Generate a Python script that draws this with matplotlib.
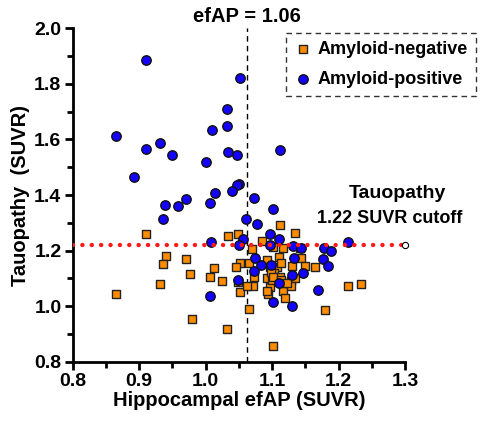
import matplotlib.pyplot as plt
from matplotlib.ticker import MultipleLocator

plt.rcParams['font.family'] = ['Liberation Sans', 'DejaVu Sans']
plt.rcParams['font.weight'] = 'bold'

# amyloid-negative subjects (hippocampal efAP, tau SUVR)
neg_x = [0.865, 0.910, 0.940, 0.936, 0.931, 0.971, 0.976, 0.980, 1.006, 1.013,
         1.025, 1.032, 1.033, 1.048, 1.051, 1.046, 1.048, 1.051, 1.066, 1.070,
         1.085, 1.073, 1.072, 1.066, 1.062, 1.092, 1.097, 1.101, 1.112, 1.110,
         1.108, 1.103, 1.092, 1.097, 1.094, 1.100, 1.116, 1.114, 1.112, 1.117,
         1.119, 1.130, 1.128, 1.135, 1.135, 1.143, 1.150, 1.165, 1.180, 1.214,
         1.234, 1.102, 1.128, 1.099, 1.102, 1.114, 1.122, 1.092, 1.142]
neg_y = [1.044, 1.258, 1.180, 1.152, 1.078, 1.170, 1.114, 0.954, 1.106, 1.136,
         1.092, 0.916, 1.252, 1.258, 1.154, 1.142, 1.088, 1.051, 1.154, 1.204,
         1.236, 1.106, 1.072, 0.990, 1.072, 1.166, 1.142, 1.214, 1.292, 1.178,
         1.142, 1.118, 1.102, 1.070, 1.044, 1.094, 1.208, 1.154, 1.106, 1.056,
         1.030, 1.144, 1.090, 1.262, 1.102, 1.174, 1.146, 1.140, 0.986, 1.072,
         1.080, 0.858, 1.072, 1.124, 1.106, 1.094, 1.082, 1.054, 1.208]

# amyloid-positive subjects
pos_x = [0.911, 1.051, 1.032, 1.032, 1.009, 0.866, 0.931, 0.910, 1.112, 1.033,
         1.047, 0.950, 1.001, 0.893, 1.050, 1.047, 1.040, 1.014, 1.006, 0.971,
         0.959, 0.939, 0.936, 1.073, 1.102, 1.060, 1.078, 1.008, 1.056, 1.050,
         1.097, 1.110, 1.214, 1.132, 1.143, 1.178, 1.189, 1.075, 1.133, 1.177,
         1.184, 1.099, 1.146, 1.169, 1.007, 1.101, 1.130, 1.110, 1.073, 1.130,
         1.097, 1.084, 1.049]
pos_y = [1.886, 1.822, 1.711, 1.648, 1.634, 1.611, 1.586, 1.566, 1.561, 1.555,
         1.544, 1.545, 1.519, 1.466, 1.438, 1.436, 1.414, 1.406, 1.372, 1.386,
         1.362, 1.363, 1.314, 1.388, 1.351, 1.314, 1.297, 1.230, 1.243, 1.219,
         1.258, 1.243, 1.230, 1.218, 1.208, 1.208, 1.200, 1.174, 1.174, 1.170,
         1.146, 1.147, 1.120, 1.058, 1.036, 1.016, 1.000, 1.082, 1.126, 1.111,
         1.220, 1.148, 1.094]

efap_cut = 1.062
tau_cut = 1.22

fig = plt.figure(figsize=(4.84, 4.23), dpi=100)
ax = fig.add_axes([0.150, 0.145, 0.687, 0.788])

ax.scatter(neg_x, neg_y, marker='s', s=38, c='#ff8c00', edgecolors='#222222',
           linewidths=1.0, zorder=3, label='Amyloid-negative')
ax.scatter(pos_x, pos_y, marker='o', s=46, c='#1400ff', edgecolors='#111111',
           linewidths=1.0, zorder=4, label='Amyloid-positive')

# tau cutoff line, dotted red with open end marker
ax.plot([0.8, 1.3], [tau_cut, tau_cut], color='#ff1a1a', lw=3.2,
        linestyle=(0, (0.01, 2.1)), dash_capstyle='round', zorder=5)
ax.plot([1.3], [tau_cut], 'o', ms=4.5, mfc='white', mec='black', mew=0.8,
        zorder=6, clip_on=False)

# efAP cutoff
ax.plot([efap_cut, efap_cut], [0.8, 2.0], color='black', lw=1.0,
        linestyle=(0, (4, 3)), zorder=2)
ax.text(efap_cut, 2.01, 'efAP = 1.06', ha='center', va='bottom',
        fontsize=14.5, fontweight='bold')

ax.text(1.288, 1.407, 'Tauopathy', ha='center', va='center',
        fontsize=14, fontweight='bold')
ax.text(1.277, 1.314, '1.22 SUVR cutoff', ha='center', va='center',
        fontsize=13, fontweight='bold')

ax.set_xlim(0.8, 1.3)
ax.set_ylim(0.8, 2.0)
ax.xaxis.set_minor_locator(MultipleLocator(0.05))
ax.yaxis.set_minor_locator(MultipleLocator(0.1))
ax.set_xticks([0.8, 0.9, 1.0, 1.1, 1.2, 1.3])
ax.set_xticklabels(['0.8', '0.9', '1.0', '1.1', '1.2', '1.3'])
ax.set_yticks([0.8, 1.0, 1.2, 1.4, 1.6, 1.8, 2.0])
ax.set_yticklabels(['0.8', '1.0', '1.2', '1.4', '1.6', '1.8', '2.0'])

for side in ['top', 'right']:
    ax.spines[side].set_visible(False)
for side in ['left', 'bottom']:
    ax.spines[side].set_linewidth(2)
ax.tick_params(which='major', length=6, width=2, labelsize=14, pad=2)
ax.tick_params(which='minor', length=4, width=2)
for lab in ax.get_xticklabels() + ax.get_yticklabels():
    lab.set_fontweight('bold')

ax.set_xlabel('Hippocampal efAP (SUVR)', fontsize=14.5, fontweight='bold', labelpad=1)
ax.set_ylabel('Tauopathy  (SUVR)', fontsize=14.5, fontweight='bold', labelpad=3)

leg = ax.legend(loc='upper right', bbox_to_anchor=(0.9835, 0.922),
                bbox_transform=fig.transFigure, frameon=True, borderaxespad=0,
                fancybox=False, handletextpad=0.3, borderpad=0.45,
                labelspacing=0.7, markerscale=1.0, handlelength=1.0,
                prop={'weight': 'bold', 'size': 13})
leg.get_frame().set_edgecolor('black')
leg.get_frame().set_linestyle((0, (4, 3)))
leg.get_frame().set_linewidth(1.0)

fig.savefig('out.png', dpi=100)
